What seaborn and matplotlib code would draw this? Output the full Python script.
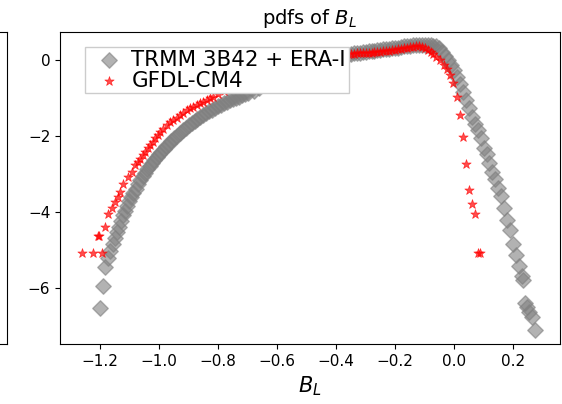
import numpy as np
import pandas as pd
import matplotlib
matplotlib.use("Agg")
import matplotlib.pyplot as plt
import seaborn as sns

# ---- data ----
trmm_x = [-1.200, -1.191, -1.185, -1.172, -1.165, -1.158, -1.151, -1.144, -1.137, -1.130,
          -1.123, -1.116, -1.109, -1.102, -1.095, -1.088, -1.080, -1.072, -1.064, -1.056,
          -1.048, -1.040, -1.032, -1.024, -1.016, -1.008, -1.000, -0.992, -0.984, -0.976,
          -0.968, -0.960, -0.950, -0.940, -0.930, -0.920, -0.910, -0.900, -0.890, -0.880,
          -0.870, -0.860, -0.850, -0.840, -0.830, -0.820, -0.810, -0.800, -0.790, -0.780,
          -0.770, -0.760, -0.750, -0.740, -0.730, -0.720, -0.710, -0.700, -0.680, -0.660,
          -0.640, -0.620, -0.600, -0.580, -0.560, -0.540, -0.520, -0.500, -0.480, -0.460,
          -0.440, -0.420, -0.400, -0.380, -0.360, -0.350, -0.340, -0.330, -0.320, -0.310,
          -0.300, -0.290, -0.280, -0.270, -0.260, -0.250, -0.240, -0.230, -0.220, -0.210,
          -0.200, -0.190, -0.180, -0.170, -0.160, -0.150, -0.140, -0.130, -0.120, -0.110,
          -0.100, -0.090, -0.080, -0.070, -0.060, -0.050, -0.040, -0.030, -0.020, -0.010,
          0.000, 0.010, 0.020, 0.030, 0.040, 0.050, 0.060, 0.070, 0.080, 0.090,
          0.100, 0.110, 0.120, 0.130, 0.140, 0.150, 0.160, 0.170, 0.180, 0.190,
          0.200, 0.210, 0.220, 0.230, 0.234, 0.241, 0.247, 0.253, 0.264, 0.275]
trmm_y = [-6.53, -5.95, -5.44, -5.22, -5.02, -4.84, -4.67, -4.52, -4.38, -4.23,
          -4.08, -3.96, -3.84, -3.72, -3.61, -3.50, -3.38, -3.26, -3.15, -3.05,
          -2.96, -2.87, -2.78, -2.70, -2.62, -2.55, -2.48, -2.41, -2.34, -2.27,
          -2.20, -2.14, -2.06, -1.99, -1.92, -1.85, -1.78, -1.71, -1.65, -1.59,
          -1.54, -1.49, -1.44, -1.39, -1.34, -1.30, -1.26, -1.22, -1.18, -1.14,
          -1.10, -1.06, -1.03, -0.99, -0.96, -0.93, -0.90, -0.87, -0.80, -0.73,
          -0.66, -0.59, -0.52, -0.46, -0.40, -0.34, -0.28, -0.22, -0.16, -0.10,
          -0.05, 0.00, 0.05, 0.10, 0.14, 0.16, 0.18, 0.19, 0.20, 0.21,
          0.22, 0.23, 0.24, 0.25, 0.26, 0.27, 0.28, 0.29, 0.30, 0.31,
          0.32, 0.33, 0.35, 0.36, 0.37, 0.38, 0.39, 0.40, 0.40, 0.41,
          0.41, 0.41, 0.40, 0.38, 0.36, 0.31, 0.22, 0.11, 0.00, -0.12,
          -0.26, -0.44, -0.64, -0.85, -1.04, -1.27, -1.50, -1.68, -1.85, -2.06,
          -2.30, -2.47, -2.71, -2.94, -3.13, -3.36, -3.58, -3.88, -4.20, -4.48,
          -4.84, -5.12, -5.42, -5.68, -5.79, -6.39, -6.50, -6.62, -6.76, -7.11]

gfdl_x = [-1.262, -1.223, -1.192, -1.208, -1.203, -1.183, -1.172, -1.160, -1.149, -1.138,
          -1.132, -1.121, -1.104, -1.093, -1.081, -1.072, -1.064, -1.055, -1.047, -1.038,
          -1.030, -1.022, -1.014, -1.005, -0.997, -0.986, -0.974, -0.963, -0.952, -0.940,
          -0.929, -0.918, -0.906, -0.895, -0.884, -0.872, -0.861, -0.850, -0.838, -0.827,
          -0.816, -0.800, -0.780, -0.760, -0.740, -0.720, -0.700, -0.680, -0.660, -0.640,
          -0.620, -0.600, -0.580, -0.560, -0.540, -0.520, -0.500, -0.480, -0.460, -0.440,
          -0.420, -0.400, -0.380, -0.360, -0.350, -0.340, -0.330, -0.320, -0.310, -0.300,
          -0.290, -0.280, -0.270, -0.260, -0.250, -0.240, -0.230, -0.220, -0.210, -0.200,
          -0.190, -0.180, -0.170, -0.160, -0.150, -0.140, -0.130, -0.120, -0.110, -0.100,
          -0.090, -0.080, -0.070, -0.060, -0.047, -0.035, -0.024, -0.014, -0.004, 0.010,
          0.020, 0.031, 0.041, 0.051, 0.061, 0.071, 0.082, 0.088]
gfdl_y = [-5.08, -5.08, -5.08, -4.62, -4.62, -4.39, -4.05, -3.88, -3.74, -3.61,
          -3.46, -3.25, -3.07, -2.94, -2.76, -2.67, -2.59, -2.50, -2.41, -2.32,
          -2.24, -2.15, -2.06, -1.97, -1.89, -1.80, -1.71, -1.64, -1.58, -1.51,
          -1.45, -1.38, -1.32, -1.27, -1.23, -1.18, -1.14, -1.09, -1.05, -1.00,
          -0.96, -0.89, -0.80, -0.72, -0.64, -0.56, -0.49, -0.42, -0.35, -0.29,
          -0.23, -0.17, -0.12, -0.07, -0.03, 0.01, 0.04, 0.07, 0.09, 0.11,
          0.13, 0.14, 0.15, 0.16, 0.17, 0.17, 0.18, 0.18, 0.19, 0.19,
          0.20, 0.20, 0.21, 0.21, 0.22, 0.23, 0.24, 0.25, 0.26, 0.27,
          0.29, 0.30, 0.32, 0.33, 0.34, 0.35, 0.36, 0.36, 0.34, 0.31,
          0.27, 0.22, 0.15, 0.08, 0.00, -0.12, -0.24, -0.38, -0.61, -0.96,
          -1.45, -2.02, -2.73, -3.42, -3.79, -4.05, -5.08, -5.08]

series_labels = ["TRMM 3B42 + ERA-I", "GFDL-CM4"]
x_ticks = [-1.2, -1.0, -0.8, -0.6, -0.4, -0.2, 0.0, 0.2]
y_ticks = [0, -2, -4, -6]

W, H = 562, 404
fig = plt.figure(figsize=(W / 100, H / 100), dpi=100)

left, right, top, bottom = 60, 560, 32, 344
ax = fig.add_axes([left / W, (H - bottom) / H, (right - left) / W, (bottom - top) / H])

# partial neighbouring panel on the far left
ax0 = fig.add_axes([-0.3, (H - bottom) / H, 0.3 + 6.5 / W, (bottom - top) / H])
ax0.set_xticks([])
ax0.set_yticks([])

sns.scatterplot(x=trmm_x, y=trmm_y, ax=ax, marker="D", s=62, color="gray",
                edgecolor="gray", linewidth=1.0, alpha=0.6, label=series_labels[0])
sns.scatterplot(x=gfdl_x, y=gfdl_y, ax=ax, marker="*", s=50, color="red",
                edgecolor="red", linewidth=0.5, alpha=0.7, label=series_labels[1])

ax.set_xlim(-1.336, 0.359)
ax.set_ylim(-7.47, 0.74)
ax.set_xticks(x_ticks)
ax.set_xticklabels([f"{v:.1f}".replace("-", "\u2212") for v in x_ticks])
ax.set_yticks(y_ticks)
ax.tick_params(labelsize=11)
ax.set_title("pdfs of $B_L$", fontsize=14)
ax.set_xlabel("$B_L$", fontsize=15)

ax.legend(loc="upper left", bbox_to_anchor=(0.05, 0.952), borderaxespad=0,
          fontsize=15.4, handlelength=2.0, handletextpad=0.05, labelspacing=0.05,
          borderpad=0.12, framealpha=1, fancybox=False, edgecolor="#cccccc")

fig.savefig("out.png", dpi=100)
